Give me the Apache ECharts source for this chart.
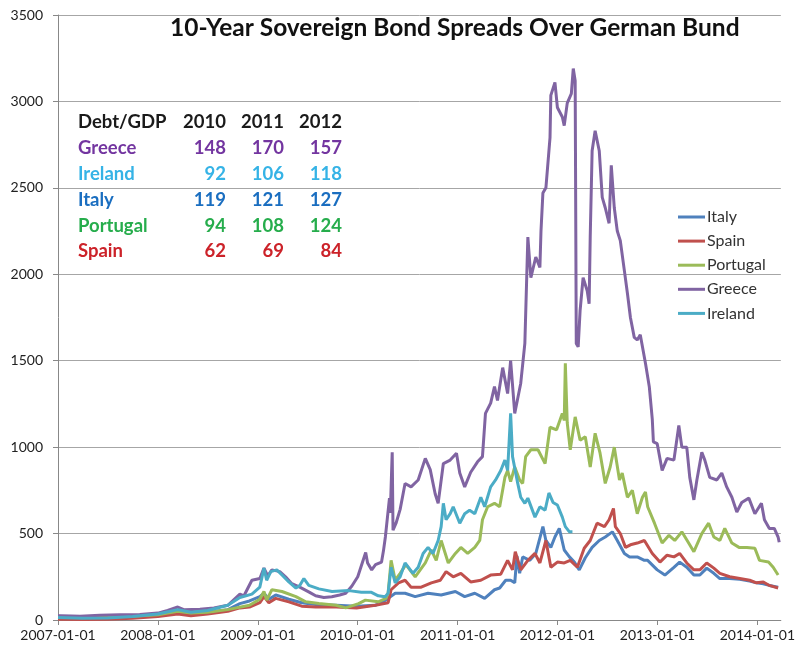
<!DOCTYPE html>
<html>
<head>
<meta charset="utf-8">
<title>10-Year Sovereign Bond Spreads Over German Bund</title>
<script src="https://cdn.jsdelivr.net/npm/echarts@6/dist/echarts.min.js"></script>
<style>
  html, body { margin: 0; padding: 0; background: #fff; }
  #chart { width: 798px; height: 650px; }
</style>
</head>
<body>
<div id="chart"></div>
<script>
// spreads over the German Bund (bp)
const italy = [
  ['2007-01-01', 22], ['2007-04-01', 20], ['2007-07-01', 22], ['2007-10-01', 25],
  ['2008-01-01', 30], ['2008-03-14', 45], ['2008-05-01', 38], ['2008-07-01', 45], ['2008-09-13', 60], ['2008-10-27', 95], ['2008-12-01', 110],
  ['2009-01-08', 135], ['2009-01-23', 155], ['2009-02-10', 120], ['2009-03-07', 145], ['2009-04-24', 120], ['2009-06-10', 100], ['2009-07-31', 90], ['2009-10-14', 85], ['2009-12-28', 80],
  ['2010-03-06', 85], ['2010-03-29', 100], ['2010-04-22', 125], ['2010-05-18', 155], ['2010-06-23', 155], ['2010-07-30', 135], ['2010-09-15', 155], ['2010-11-02', 145], ['2010-12-24', 165],
  ['2011-01-27', 135], ['2011-03-05', 155], ['2011-04-10', 125], ['2011-05-16', 175], ['2011-06-04', 185], ['2011-06-26', 230], ['2011-07-14', 230], ['2011-07-29', 215], ['2011-08-06', 370], ['2011-08-16', 270], ['2011-08-27', 365], ['2011-09-22', 345], ['2011-10-14', 385], ['2011-11-09', 540], ['2011-11-20', 460], ['2011-12-08', 420], ['2011-12-23', 480],
  ['2012-01-08', 530], ['2012-01-26', 405], ['2012-02-14', 365], ['2012-03-03', 335], ['2012-03-21', 290], ['2012-04-12', 360], ['2012-05-07', 420], ['2012-06-02', 460], ['2012-06-24', 480], ['2012-07-20', 510], ['2012-08-07', 460], ['2012-09-02', 385], ['2012-09-21', 365], ['2012-10-19', 365], ['2012-11-14', 345], ['2012-11-26', 345], ['2012-12-31', 290],
  ['2013-01-28', 260], ['2013-03-02', 305], ['2013-03-23', 335], ['2013-04-18', 305], ['2013-05-14', 260], ['2013-06-05', 260], ['2013-06-30', 300], ['2013-07-26', 270], ['2013-08-17', 240], ['2013-09-22', 240], ['2013-10-29', 235], ['2013-12-04', 225], ['2013-12-29', 215],
  ['2014-01-23', 210], ['2014-02-14', 200], ['2014-03-18', 190]
];
const spain = [
  ['2007-01-01', 5], ['2007-04-01', 3], ['2007-07-01', 5], ['2007-10-01', 10],
  ['2008-01-01', 20], ['2008-03-14', 35], ['2008-05-01', 25], ['2008-07-01', 35], ['2008-09-13', 50], ['2008-10-27', 70], ['2008-12-01', 75],
  ['2009-01-08', 100], ['2009-01-23', 135], ['2009-02-10', 100], ['2009-03-07', 125], ['2009-04-24', 105], ['2009-06-10', 80], ['2009-07-31', 75], ['2009-10-14', 75], ['2009-12-28', 70],
  ['2010-03-06', 85], ['2010-04-22', 100], ['2010-05-03', 175], ['2010-05-30', 215], ['2010-06-23', 230], ['2010-07-15', 190], ['2010-08-21', 190], ['2010-09-27', 215], ['2010-10-30', 230], ['2010-11-20', 280], ['2010-12-16', 250],
  ['2011-01-13', 270], ['2011-02-18', 220], ['2011-03-27', 230], ['2011-05-02', 260], ['2011-06-08', 265], ['2011-07-03', 345], ['2011-07-21', 290], ['2011-07-31', 395], ['2011-08-20', 290], ['2011-09-15', 345], ['2011-10-11', 385], ['2011-10-29', 330], ['2011-11-20', 460], ['2011-12-08', 305],
  ['2012-01-01', 335], ['2012-01-26', 330], ['2012-02-17', 345], ['2012-03-14', 305], ['2012-04-08', 415], ['2012-04-30', 460], ['2012-05-25', 560], ['2012-06-21', 540], ['2012-07-08', 580], ['2012-07-24', 645], ['2012-07-31', 540], ['2012-08-18', 500], ['2012-09-06', 420], ['2012-09-24', 435], ['2012-10-19', 445], ['2012-11-14', 460], ['2012-12-13', 385],
  ['2013-01-10', 335], ['2013-02-05', 375], ['2013-03-02', 365], ['2013-03-23', 385], ['2013-04-18', 330], ['2013-05-14', 290], ['2013-06-05', 290], ['2013-06-30', 330], ['2013-07-26', 300], ['2013-08-17', 270], ['2013-09-22', 250], ['2013-10-29', 240], ['2013-12-04', 230], ['2013-12-29', 215],
  ['2014-01-23', 220], ['2014-02-14', 200], ['2014-03-18', 185]
];
const portugal = [
  ['2007-01-01', 18], ['2007-04-01', 15], ['2007-07-01', 17], ['2007-10-01', 22],
  ['2008-01-01', 30], ['2008-03-14', 50], ['2008-05-01', 40], ['2008-07-01', 45], ['2008-09-13', 60], ['2008-12-01', 85],
  ['2009-01-08', 120], ['2009-01-23', 165], ['2009-02-02', 115], ['2009-02-21', 175], ['2009-03-30', 165], ['2009-05-20', 135], ['2009-06-25', 105], ['2009-08-12', 95], ['2009-10-14', 85], ['2009-11-18', 70],
  ['2010-01-04', 95], ['2010-01-29', 115], ['2010-03-17', 105], ['2010-04-14', 125], ['2010-04-22', 155], ['2010-05-03', 345], ['2010-05-18', 230], ['2010-06-05', 270], ['2010-06-26', 320], ['2010-07-30', 250], ['2010-09-05', 330], ['2010-09-27', 405], ['2010-10-15', 345], ['2010-11-02', 460], ['2010-11-28', 330], ['2010-12-24', 385],
  ['2011-01-13', 420], ['2011-02-07', 385], ['2011-03-05', 420], ['2011-03-23', 460], ['2011-04-02', 580], ['2011-04-21', 655], ['2011-05-16', 675], ['2011-06-04', 655], ['2011-06-23', 825], ['2011-07-03', 865], ['2011-07-14', 800], ['2011-07-29', 885], ['2011-08-16', 810], ['2011-08-27', 790], ['2011-09-07', 945], ['2011-09-26', 985], ['2011-10-22', 985], ['2011-11-17', 905], ['2011-12-05', 1115], ['2011-12-29', 1100],
  ['2012-01-19', 1195], ['2012-01-26', 1155], ['2012-01-30', 1485], ['2012-02-06', 1140], ['2012-02-17', 985], ['2012-03-06', 1175], ['2012-03-24', 1040], ['2012-04-12', 1060], ['2012-04-30', 885], ['2012-05-18', 1080], ['2012-06-05', 965], ['2012-06-24', 790], ['2012-07-12', 885], ['2012-07-27', 1000], ['2012-08-15', 810], ['2012-08-25', 850], ['2012-09-13', 710], ['2012-10-01', 750], ['2012-10-19', 615], ['2012-11-07', 710], ['2012-11-18', 740], ['2012-11-26', 655], ['2012-12-21', 560],
  ['2013-01-18', 445], ['2013-02-12', 490], ['2013-03-05', 460], ['2013-03-31', 510], ['2013-04-25', 445], ['2013-05-14', 395], ['2013-06-12', 500], ['2013-07-07', 560], ['2013-07-26', 480], ['2013-08-17', 460], ['2013-09-04', 530], ['2013-09-30', 445], ['2013-10-26', 420], ['2013-11-24', 420], ['2013-12-23', 415],
  ['2014-01-09', 345], ['2014-02-11', 335], ['2014-02-28', 305], ['2014-03-18', 260]
];
const greece = [
  ['2007-01-01', 25], ['2007-03-22', 22], ['2007-06-03', 28], ['2007-08-15', 30], ['2007-10-27', 32],
  ['2008-01-01', 40], ['2008-02-06', 55], ['2008-03-14', 75], ['2008-04-05', 60], ['2008-06-03', 62], ['2008-07-24', 70], ['2008-09-13', 85], ['2008-10-27', 150], ['2008-11-11', 140], ['2008-12-10', 230],
  ['2009-01-08', 240], ['2009-01-23', 300], ['2009-02-06', 255], ['2009-02-21', 290], ['2009-03-22', 280], ['2009-04-12', 250], ['2009-05-05', 210], ['2009-06-03', 190], ['2009-07-09', 160], ['2009-07-31', 140], ['2009-08-30', 130], ['2009-09-28', 135], ['2009-10-27', 145], ['2009-11-18', 155], ['2009-12-10', 195],
  ['2010-01-01', 250], ['2010-01-30', 390], ['2010-02-06', 330], ['2010-02-21', 290], ['2010-03-07', 320], ['2010-03-29', 335], ['2010-04-05', 400], ['2010-04-12', 480], ['2010-04-27', 705], ['2010-04-30', 620], ['2010-05-07', 970], ['2010-05-10', 520], ['2010-05-21', 560], ['2010-06-05', 640], ['2010-06-23', 790], ['2010-07-15', 770], ['2010-08-10', 810], ['2010-09-05', 935], ['2010-09-23', 870], ['2010-10-11', 730], ['2010-10-22', 675], ['2010-11-10', 905], ['2010-12-05', 925], ['2010-12-28', 965],
  ['2011-01-09', 850], ['2011-01-27', 770], ['2011-02-18', 855], ['2011-03-15', 915], ['2011-04-02', 945], ['2011-04-13', 1195], ['2011-05-02', 1255], ['2011-05-16', 1350], ['2011-05-27', 1270], ['2011-06-15', 1460], ['2011-07-03', 1310], ['2011-07-14', 1500], ['2011-07-29', 1195], ['2011-08-20', 1370], ['2011-09-04', 1600], ['2011-09-15', 2215], ['2011-09-26', 1980], ['2011-10-14', 2100], ['2011-10-29', 2040], ['2011-11-02', 2250], ['2011-11-09', 2470], ['2011-11-20', 2500], ['2011-12-05', 2790], ['2011-12-08', 3035], ['2011-12-23', 3110],
  ['2012-01-01', 2965], ['2012-01-19', 2910], ['2012-01-26', 2860], ['2012-02-06', 2990], ['2012-02-21', 3045], ['2012-02-28', 3190], ['2012-03-06', 3120], ['2012-03-10', 1600], ['2012-03-17', 1580], ['2012-03-24', 1790], ['2012-04-04', 1980], ['2012-04-19', 1905], ['2012-04-26', 1830], ['2012-04-30', 2215], ['2012-05-07', 2715], ['2012-05-18', 2830], ['2012-05-25', 2840], ['2012-06-02', 2715], ['2012-06-13', 2445], ['2012-06-24', 2385], ['2012-07-08', 2295], ['2012-07-16', 2630], ['2012-07-27', 2385], ['2012-08-07', 2250], ['2012-08-18', 2195], ['2012-09-02', 2020], ['2012-09-13', 1890], ['2012-09-24', 1750], ['2012-10-08', 1635], ['2012-10-19', 1620], ['2012-10-30', 1650], ['2012-11-18', 1485], ['2012-12-02', 1350], ['2012-12-13', 1160], ['2012-12-17', 1030], ['2012-12-31', 1020],
  ['2013-01-18', 865], ['2013-02-05', 935], ['2013-03-02', 925], ['2013-03-20', 1125], ['2013-03-31', 1000], ['2013-04-18', 1000], ['2013-04-29', 825], ['2013-05-14', 695], ['2013-05-25', 810], ['2013-06-12', 970], ['2013-06-23', 925], ['2013-07-11', 825], ['2013-08-06', 810], ['2013-08-24', 850], ['2013-09-11', 770], ['2013-09-30', 710], ['2013-10-18', 625], ['2013-11-05', 680], ['2013-12-01', 705], ['2013-12-23', 615],
  ['2014-01-16', 675], ['2014-01-27', 580], ['2014-02-14', 530], ['2014-03-04', 530], ['2014-03-18', 480], ['2014-03-22', 450]
];
const ireland = [
  ['2007-01-01', 15], ['2007-04-01', 10], ['2007-07-01', 12], ['2007-10-01', 20],
  ['2008-01-01', 35], ['2008-03-14', 60], ['2008-05-01', 45], ['2008-07-01', 55], ['2008-09-13', 85], ['2008-10-27', 130], ['2008-12-10', 150],
  ['2009-01-08', 190], ['2009-01-23', 300], ['2009-02-02', 230], ['2009-02-17', 280], ['2009-03-11', 290], ['2009-03-30', 260], ['2009-04-24', 220], ['2009-05-20', 185], ['2009-06-03', 200], ['2009-06-18', 240], ['2009-07-06', 200], ['2009-08-12', 180], ['2009-09-29', 165], ['2009-11-30', 170],
  ['2010-01-14', 160], ['2010-02-20', 160], ['2010-03-17', 140], ['2010-04-11', 135], ['2010-04-22', 155], ['2010-05-03', 305], ['2010-05-18', 215], ['2010-06-05', 250], ['2010-06-23', 330], ['2010-07-22', 270], ['2010-08-10', 305], ['2010-08-28', 385], ['2010-09-15', 420], ['2010-10-03', 385], ['2010-10-22', 460], ['2010-11-02', 540], ['2010-11-10', 675], ['2010-11-20', 580], ['2010-12-05', 615], ['2010-12-16', 655],
  ['2011-01-09', 560], ['2011-01-27', 615], ['2011-02-14', 635], ['2011-03-05', 615], ['2011-03-27', 710], ['2011-04-10', 655], ['2011-05-02', 770], ['2011-05-20', 810], ['2011-06-08', 865], ['2011-06-23', 925], ['2011-07-03', 865], ['2011-07-14', 1195], ['2011-07-21', 945], ['2011-08-09', 790], ['2011-08-20', 710], ['2011-09-04', 675], ['2011-09-15', 705], ['2011-10-11', 595], ['2011-10-29', 655], ['2011-11-17', 635], ['2011-12-01', 735], ['2011-12-16', 680],
  ['2012-01-01', 665], ['2012-01-19', 595], ['2012-01-30', 540], ['2012-02-14', 510], ['2012-02-25', 510]
];

const seriesNames = ['Italy', 'Spain', 'Portugal', 'Greece', 'Ireland'];
const seriesColors = ['#4F81BD', '#C0504D', '#9BBB59', '#8064A2', '#4BACC6'];

// Debt/GDP table in the top-left corner
const debtYears = ['2010', '2011', '2012'];
const debtNames = ['Greece', 'Ireland', 'Italy', 'Portugal', 'Spain'];
const debtValues = [
  [148, 170, 157],
  [92, 106, 118],
  [119, 121, 127],
  [94, 108, 124],
  [62, 69, 84]
];
const debtColors = ['#7335A0', '#35B3E6', '#1A6EC0', '#26AD4C', '#CC2229'];

const myChart = echarts.init(document.getElementById('chart'));

const tableFont = 'bold 18.5px Lato';
const colRight = [226, 284, 342];
const rowTop = 122, rowStep = 25.9;
const tableText = [];
tableText.push({
  type: 'text', x: 78, y: rowTop,
  style: { text: 'Debt/GDP', font: tableFont, fill: '#1a1a1a', align: 'left', verticalAlign: 'middle' }
});
debtYears.forEach(function (yr, j) {
  tableText.push({
    type: 'text', x: colRight[j], y: rowTop,
    style: { text: yr, font: tableFont, fill: '#1a1a1a', align: 'right', verticalAlign: 'middle' }
  });
});
debtNames.forEach(function (name, i) {
  const y = rowTop + rowStep * (i + 1);
  tableText.push({
    type: 'text', x: 78, y: y,
    style: { text: name, font: tableFont, fill: debtColors[i], align: 'left', verticalAlign: 'middle' }
  });
  debtValues[i].forEach(function (v, j) {
    tableText.push({
      type: 'text', x: colRight[j], y: y,
      style: { text: String(v), font: tableFont, fill: debtColors[i], align: 'right', verticalAlign: 'middle' }
    });
  });
});

const allData = [italy, spain, portugal, greece, ireland];

const option = {
  animation: false,
  title: {
    text: '10-Year Sovereign Bond Spreads Over German Bund',
    left: 170,
    top: 16,
    padding: 0,
    textStyle: { fontFamily: 'Lato', fontWeight: 'bold', fontSize: 24.5, color: '#111' }
  },
  legend: {
    orient: 'vertical',
    left: 678,
    top: 209,
    padding: 0,
    icon: 'rect',
    itemWidth: 27,
    itemHeight: 3,
    itemGap: 8.1,
    data: seriesNames,
    textStyle: { fontFamily: 'Lato', fontSize: 16, color: '#333', padding: [0, 0, 0, -3] }
  },
  grid: { left: 58, right: 13, top: 15, bottom: 30 },
  xAxis: {
    type: 'time',
    min: '2007-01-01',
    max: '2014-03-28',
    minInterval: 365 * 24 * 3600 * 1000,
    axisLine: { lineStyle: { color: '#888', width: 1 } },
    axisTick: { show: true, length: 5, lineStyle: { color: '#888' } },
    splitLine: { show: false },
    axisLabel: {
      formatter: '{yyyy}-{MM}-{dd}',
      showMaxLabel: false,
      fontFamily: 'Lato', fontSize: 14, color: '#222', margin: 8
    }
  },
  yAxis: {
    type: 'value',
    min: 0,
    max: 3500,
    interval: 500,
    axisLine: { show: true, lineStyle: { color: '#888' } },
    axisTick: { show: true, length: 5, lineStyle: { color: '#888' } },
    splitLine: { lineStyle: { color: '#A6A6A6' } },
    axisLabel: {
      formatter: function (v) { return String(v); },
      fontFamily: 'Lato', fontSize: 14, color: '#222', margin: 15
    }
  },
  graphic: tableText,
  series: seriesNames.map(function (name, i) {
    return {
      name: name,
      type: 'line',
      data: allData[i],
      symbol: 'none',
      color: seriesColors[i],
      lineStyle: { width: 3, color: seriesColors[i] }
    };
  })
};

myChart.setOption(option);
</script>
</body>
</html>
